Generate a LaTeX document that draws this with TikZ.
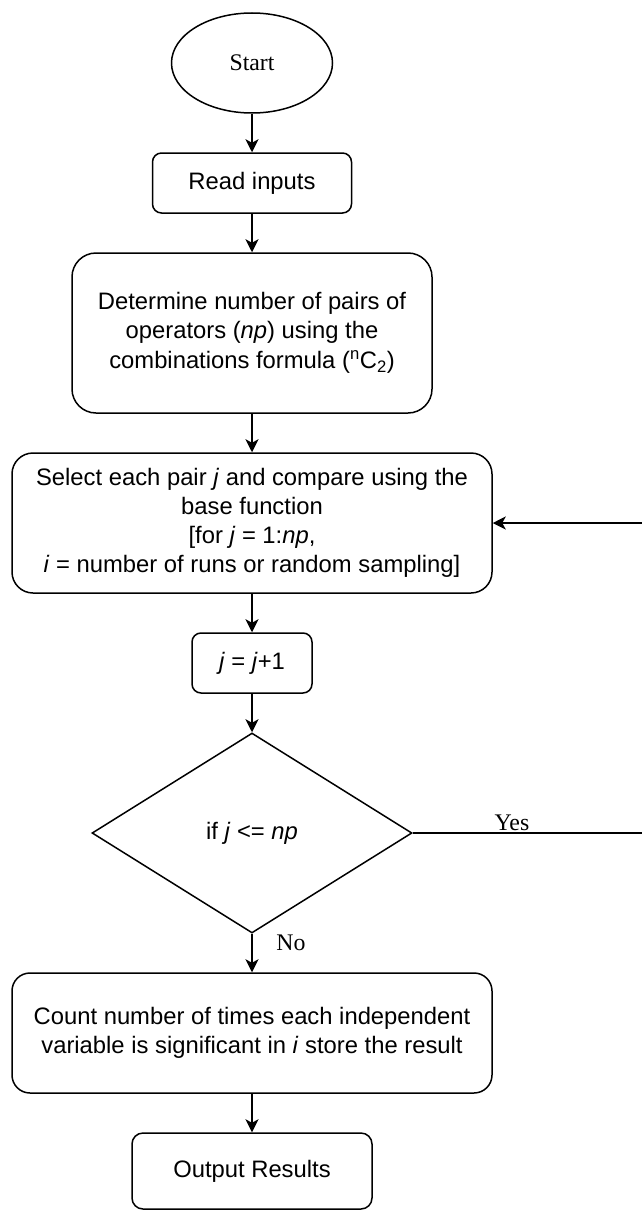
\documentclass[tikz,border=0pt]{standalone}
\usepackage{fontspec}
\setmainfont{Liberation Sans}
\newfontfamily\serifface{Liberation Serif}
\usetikzlibrary{arrows.meta,shapes.geometric}

\newcommand\boxfont{\fontsize{23.8pt}{28.8pt}\selectfont}

\tikzset{
  flowline/.style={line width=1.5pt, draw=black},
  arr/.style={flowline, -{Stealth[length=13pt,width=13pt,inset=3.5pt]}},
  procbox/.style={draw, line width=1.5pt, rectangle, rounded corners=#1,
                  align=center, inner sep=0pt, font=\boxfont},
  terminal/.style={draw, line width=1.5pt, ellipse, inner sep=0pt,
                   font=\serifface\boxfont},
  decision/.style={draw, line width=1.5pt, diamond, aspect=1.6, inner sep=0pt,
                   font=\boxfont},
  lbl/.style={font=\serifface\boxfont, inner sep=0pt},
}

\begin{document}
\begin{tikzpicture}[x=1pt, y=-1pt]
  \useasboundingbox (0,0) rectangle (642,1212);
  \clip (0,0) rectangle (642,1212);

  % process steps
  \node[terminal, minimum width=161pt, minimum height=100pt] (start) at (252,63) {Start};
  \node[procbox=9pt, minimum width=199pt, minimum height=60pt] (read) at (252,183) {Read inputs};
  \node[procbox=24pt, minimum width=360pt, minimum height=160pt] (det) at (252,333)
    {Determine number of pairs of\\
     operators (\textit{np}) using the\\[2pt]
     combinations formula (\textsuperscript{n}C\textsubscript{2})};
  \node[procbox=21pt, minimum width=480pt, minimum height=140pt] (sel) at (252,523)
    {Select each pair \textit{j} and compare using the\\
     base function\\{}%
     [for \textit{j} = 1:\textit{np},\\
     \textit{i} = number of runs or random sampling]};
  \node[procbox=9pt, minimum width=120pt, minimum height=60pt] (inc) at (252,663)
    {\textit{j} = \textit{j}+1};
  \node[decision, minimum width=320pt, minimum height=200pt] (cond) at (252,833)
    {if \textit{j} <= \textit{np}};
  \node[procbox=18pt, minimum width=480pt, minimum height=120pt] (count) at (252,1033)
    {Count number of times each independent\\
     variable is significant in \textit{i} store the result};
  \node[procbox=11pt, minimum width=240pt, minimum height=76pt] (out) at (252,1171)
    {Output Results};

  % loop-back route along the right side
  \coordinate (loopA) at (652,833);
  \coordinate (loopB) at (652,523);

  % connectors
  \draw[arr] (start) -- (read);
  \draw[arr] (read) -- (det);
  \draw[arr] (det) -- (sel);
  \draw[arr] (sel) -- (inc);
  \draw[arr] (inc) -- (cond);
  \draw[arr] (cond) -- (count);
  \draw[arr] (count) -- (out);
  \draw[arr] (cond.east) -- (loopA) -- (loopB) -- (sel.east);

  % branch labels
  \node[lbl, anchor=base] (yes) at (512,830) {Yes};
  \node[lbl] (no) at (291,943) {No};
\end{tikzpicture}
\end{document}
